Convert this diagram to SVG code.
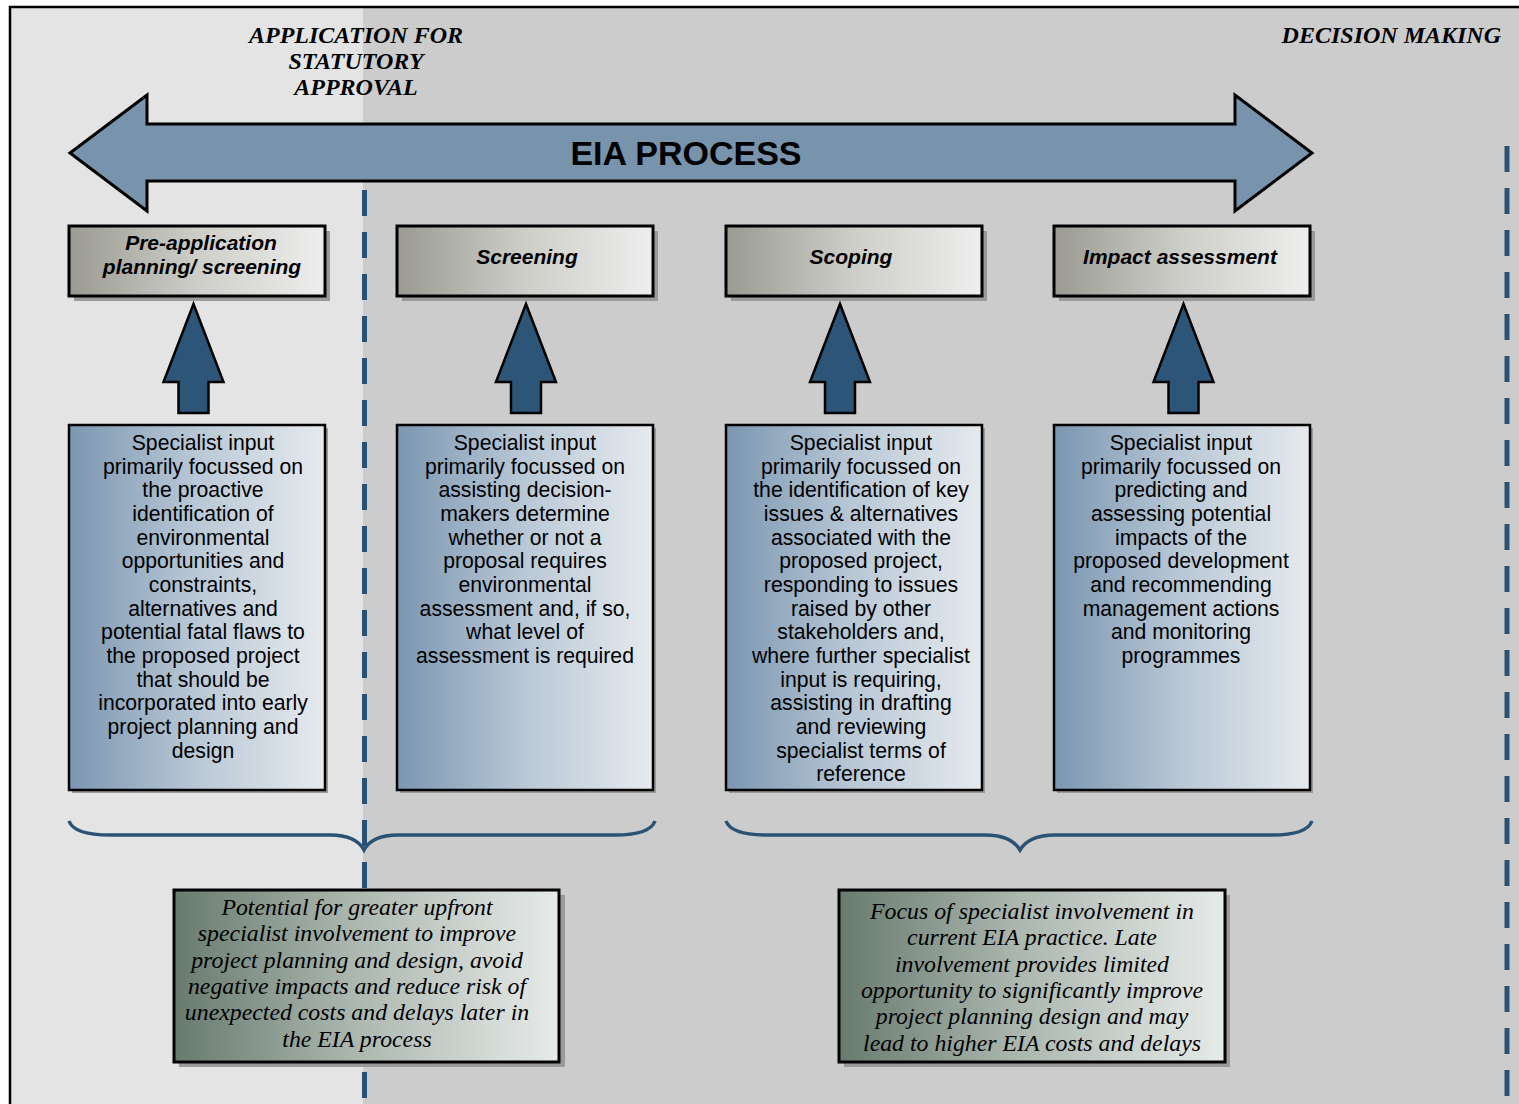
<svg xmlns="http://www.w3.org/2000/svg" width="1519" height="1104" viewBox="0 0 1519 1104">
<defs>
<linearGradient id="gHead" x1="0" y1="0" x2="1" y2="0">
<stop offset="0" stop-color="#9a9a92"/>
<stop offset="0.5" stop-color="#cdcec8"/>
<stop offset="1" stop-color="#eeeeee"/>
</linearGradient>
<linearGradient id="gDesc" x1="0" y1="0" x2="1" y2="0">
<stop offset="0" stop-color="#7b96b1"/>
<stop offset="0.5" stop-color="#b9c8d6"/>
<stop offset="1" stop-color="#e6eaee"/>
</linearGradient>
<linearGradient id="gNote" x1="0" y1="0" x2="1" y2="0">
<stop offset="0" stop-color="#687a6e"/>
<stop offset="0.45" stop-color="#a9b5ad"/>
<stop offset="1" stop-color="#e7ebe9"/>
</linearGradient>
<path id="upArrow" d="M0,0 L30,78 L15,78 L15,109 L-15,109 L-15,78 L-30,78 Z"/>
</defs>
<style>
.head{fill:url(#gHead);stroke:#000;stroke-width:3}
.desc{fill:url(#gDesc);stroke:#000;stroke-width:2.5}
.note{fill:url(#gNote);stroke:#000;stroke-width:3}
.shadow{fill:#9a9a9a}
.ht{font-family:"Liberation Sans",Arial,sans-serif;font-weight:bold;font-style:italic;font-size:21px;fill:#000;text-anchor:middle}
.dt{font-family:"Liberation Sans",Arial,sans-serif;font-size:21.2px;fill:#000;text-anchor:middle}
.nt{font-family:"Liberation Serif","Times New Roman",serif;font-style:italic;font-size:23.8px;fill:#000;text-anchor:middle}
.tt{font-family:"Liberation Serif","Times New Roman",serif;font-style:italic;font-weight:bold;font-size:24px;fill:#000}
.up{fill:#2c5577;stroke:#000;stroke-width:2.5;stroke-linejoin:miter}
.dash{stroke:#2a5275;stroke-width:5;stroke-dasharray:26 16;fill:none}
.brace{stroke:#2a5275;stroke-width:3.5;fill:none}
</style>
<rect x="0" y="0" width="1519" height="1104" fill="#ffffff"/>
<rect x="11" y="8" width="1508" height="1096" fill="#cccccc"/>
<rect x="11" y="8" width="352" height="1096" fill="#e4e4e4"/>
<path d="M10,1104 L10,7 L1519,7" fill="none" stroke="#000" stroke-width="2.5"/>

<g id="titles">
<text class="tt" x="356" y="43" text-anchor="middle">APPLICATION FOR</text>
<text class="tt" x="356" y="69" text-anchor="middle">STATUTORY</text>
<text class="tt" x="356" y="95" text-anchor="middle">APPROVAL</text>
<text class="tt" x="1501" y="43" text-anchor="end">DECISION MAKING</text>
</g>

<g id="connectors">
<line class="dash" x1="364.5" y1="190" x2="364.5" y2="1104"/>
<line class="dash" x1="1507" y1="146" x2="1507" y2="1104"/>
<path class="brace" d="M69,821 Q74,835 110,835 L330,835 Q356,835 364,850 Q372,835 398,835 L615,835 Q650,835 655,821"/>
<path class="brace" d="M726,821 Q731,835 767,835 L985,835 Q1011,835 1020,850 Q1029,835 1055,835 L1272,835 Q1307,835 1312,821"/>
</g>

<g id="eia-process">
<path d="M70,153 L147,95 L147,124 L1235,124 L1235,95 L1312,153 L1235,211 L1235,181 L147,181 L147,211 Z" fill="#7893ac" stroke="#000" stroke-width="3" stroke-linejoin="miter"/>
<text x="686" y="165" font-family="'Liberation Sans',Arial,sans-serif" font-weight="bold" font-size="34" text-anchor="middle" fill="#000">EIA PROCESS</text>
</g>

<g id="phase-pre-application">
<rect class="shadow" x="74" y="231" width="256" height="70"/>
<rect class="head" x="69" y="226" width="256" height="70"/>
<text class="ht" x="201" y="250">Pre-application</text>
<text class="ht" x="202" y="274">planning/ screening</text>
</g>
<g id="phase-screening">
<rect class="shadow" x="402" y="231" width="256" height="70"/>
<rect class="head" x="397" y="226" width="256" height="70"/>
<text class="ht" x="527" y="264">Screening</text>
</g>
<g id="phase-scoping">
<rect class="shadow" x="731" y="231" width="256" height="70"/>
<rect class="head" x="726" y="226" width="256" height="70"/>
<text class="ht" x="851" y="264">Scoping</text>
</g>
<g id="phase-impact">
<rect class="shadow" x="1059" y="231" width="256" height="70"/>
<rect class="head" x="1054" y="226" width="256" height="70"/>
<text class="ht" x="1180" y="264">Impact assessment</text>
</g>

<g id="arrow-1"><use href="#upArrow" class="up" x="193.5" y="304"/></g>
<g id="arrow-2"><use href="#upArrow" class="up" x="526" y="304"/></g>
<g id="arrow-3"><use href="#upArrow" class="up" x="840" y="304"/></g>
<g id="arrow-4"><use href="#upArrow" class="up" x="1183.5" y="304"/></g>

<g id="desc-pre-application">
<rect class="shadow" x="72" y="428" width="256" height="365"/>
<rect class="desc" x="69" y="425" width="256" height="365"/>
<text class="dt" x="203" y="450">Specialist input</text>
<text class="dt" x="203" y="474">primarily focussed on</text>
<text class="dt" x="203" y="497">the proactive</text>
<text class="dt" x="203" y="521">identification of</text>
<text class="dt" x="203" y="545">environmental</text>
<text class="dt" x="203" y="568">opportunities and</text>
<text class="dt" x="203" y="592">constraints,</text>
<text class="dt" x="203" y="616">alternatives and</text>
<text class="dt" x="203" y="639">potential fatal flaws to</text>
<text class="dt" x="203" y="663">the proposed project</text>
<text class="dt" x="203" y="687">that should be</text>
<text class="dt" x="203" y="710">incorporated into early</text>
<text class="dt" x="203" y="734">project planning and</text>
<text class="dt" x="203" y="758">design</text>
</g>
<g id="desc-screening">
<rect class="shadow" x="400" y="428" width="256" height="365"/>
<rect class="desc" x="397" y="425" width="256" height="365"/>
<text class="dt" x="525" y="450">Specialist input</text>
<text class="dt" x="525" y="474">primarily focussed on</text>
<text class="dt" x="525" y="497">assisting decision-</text>
<text class="dt" x="525" y="521">makers determine</text>
<text class="dt" x="525" y="545">whether or not a</text>
<text class="dt" x="525" y="568">proposal requires</text>
<text class="dt" x="525" y="592">environmental</text>
<text class="dt" x="525" y="616">assessment and, if so,</text>
<text class="dt" x="525" y="639">what level of</text>
<text class="dt" x="525" y="663">assessment is required</text>
</g>
<g id="desc-scoping">
<rect class="shadow" x="729" y="428" width="256" height="365"/>
<rect class="desc" x="726" y="425" width="256" height="365"/>
<text class="dt" x="861" y="450">Specialist input</text>
<text class="dt" x="861" y="474">primarily focussed on</text>
<text class="dt" x="861" y="497">the identification of key</text>
<text class="dt" x="861" y="521">issues &amp; alternatives</text>
<text class="dt" x="861" y="545">associated with the</text>
<text class="dt" x="861" y="568">proposed project,</text>
<text class="dt" x="861" y="592">responding to issues</text>
<text class="dt" x="861" y="616">raised by other</text>
<text class="dt" x="861" y="639">stakeholders and,</text>
<text class="dt" x="861" y="663">where further specialist</text>
<text class="dt" x="861" y="687">input is requiring,</text>
<text class="dt" x="861" y="710">assisting in drafting</text>
<text class="dt" x="861" y="734">and reviewing</text>
<text class="dt" x="861" y="758">specialist terms of</text>
<text class="dt" x="861" y="781">reference</text>
</g>
<g id="desc-impact">
<rect class="shadow" x="1057" y="428" width="256" height="365"/>
<rect class="desc" x="1054" y="425" width="256" height="365"/>
<text class="dt" x="1181" y="450">Specialist input</text>
<text class="dt" x="1181" y="474">primarily focussed on</text>
<text class="dt" x="1181" y="497">predicting and</text>
<text class="dt" x="1181" y="521">assessing potential</text>
<text class="dt" x="1181" y="545">impacts of the</text>
<text class="dt" x="1181" y="568">proposed development</text>
<text class="dt" x="1181" y="592">and recommending</text>
<text class="dt" x="1181" y="616">management actions</text>
<text class="dt" x="1181" y="639">and monitoring</text>
<text class="dt" x="1181" y="663">programmes</text>
</g>

<g id="note-upfront">
<rect class="shadow" x="179" y="895" width="386" height="172"/>
<rect class="note" x="174" y="890" width="385" height="172"/>
<text class="nt" x="357" y="915">Potential for greater upfront</text>
<text class="nt" x="357" y="941">specialist involvement to improve</text>
<text class="nt" x="357" y="968">project planning and design, avoid</text>
<text class="nt" x="357" y="994">negative impacts and reduce risk of</text>
<text class="nt" x="357" y="1020">unexpected costs and delays later in</text>
<text class="nt" x="357" y="1047">the EIA process</text>
</g>
<g id="note-current">
<rect class="shadow" x="844" y="895" width="386" height="172"/>
<rect class="note" x="839" y="890" width="386" height="172"/>
<text class="nt" x="1032" y="919">Focus of specialist involvement in</text>
<text class="nt" x="1032" y="945">current EIA practice. Late</text>
<text class="nt" x="1032" y="972">involvement provides limited</text>
<text class="nt" x="1032" y="998">opportunity to significantly improve</text>
<text class="nt" x="1032" y="1024">project planning design and may</text>
<text class="nt" x="1032" y="1051">lead to higher EIA costs and delays</text>
</g>
</svg>
